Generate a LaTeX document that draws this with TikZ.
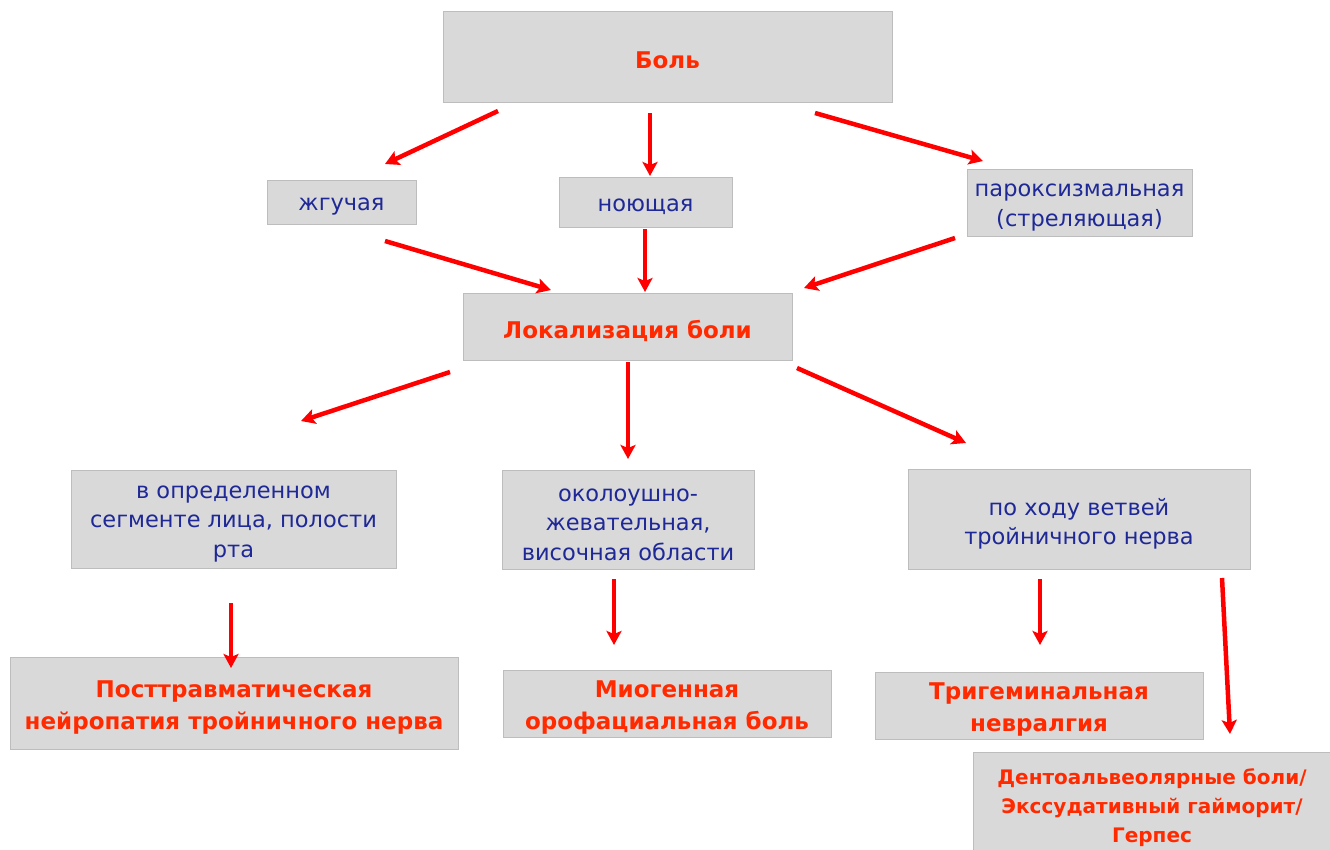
\documentclass[tikz,border=0pt]{standalone}
\usepackage{fontspec}
\setmainfont{DejaVu Sans}
\usetikzlibrary{arrows.meta}
\definecolor{boxfill}{HTML}{D9D9D9}
\definecolor{boxline}{HTML}{BDBDBD}
\definecolor{txtblue}{HTML}{1E2896}
\definecolor{txtred}{HTML}{FF2A00}
\definecolor{arrred}{HTML}{FF0000}
\tikzset{
  box/.style={draw=boxline, line width=1pt, fill=boxfill, inner sep=0pt},
  bluetxt/.style={text=txtblue, align=center, inner sep=0pt, yshift=-5pt, font=\fontsize{22.5}{29.5}\selectfont},
  redtxt/.style={text=txtred, align=center, inner sep=0pt, yshift=-4pt, font=\fontsize{23}{32}\selectfont\bfseries},
  arr/.style={draw=arrred, line width=4.5pt, -{Stealth[length=14pt,width=15pt,inset=3pt]}}
}
\begin{document}
\begin{tikzpicture}[x=1pt,y=-1pt]
\useasboundingbox (0,0) rectangle (1330,849);
% boxes
\node[box, minimum width=449pt, minimum height=91pt] (bol) at (667.5,56.5) {};
\node[box, minimum width=149pt, minimum height=44pt] (zh) at (341.5,202) {};
\node[box, minimum width=173pt, minimum height=50pt] (no) at (645.5,202) {};
\node[box, minimum width=225pt, minimum height=67pt] (par) at (1079.5,202.5) {};
\node[box, minimum width=329pt, minimum height=67pt] (lok) at (627.5,326.5) {};
\node[box, minimum width=325pt, minimum height=98pt] (seg) at (233.5,519) {};
\node[box, minimum width=252pt, minimum height=99pt] (okl) at (628,519.5) {};
\node[box, minimum width=342pt, minimum height=100pt] (hod) at (1079,519) {};
\node[box, minimum width=448pt, minimum height=92pt] (post) at (234,703) {};
\node[box, minimum width=328pt, minimum height=67pt] (mio) at (667,703.5) {};
\node[box, minimum width=328pt, minimum height=67pt] (tri) at (1039,705.5) {};
\node[box, minimum width=360pt, minimum height=110pt, anchor=north west] (dent) at (973,752) {};
% texts
\node[redtxt] (bolt) at (bol.center) {Боль};
\node[bluetxt] (zht) at (zh.center) {жгучая};
\node[bluetxt] (not) at (no.center) {ноющая};
\node[bluetxt] (part) at (par.center) {пароксизмальная\\(стреляющая)};
\node[redtxt] (lokt) at (lok.center) {Локализация боли};
\node[bluetxt] (segt) at (seg.center) {в определенном\\сегменте лица, полости\\рта};
\node[bluetxt] (oklt) at (okl.center) {околоушно-\\жевательная,\\височная области};
\node[bluetxt] (hodt) at (hod.center) {по ходу ветвей\\тройничного нерва};
\node[redtxt] (postt) at (post.center) {Посттравматическая\\нейропатия тройничного нерва};
\node[redtxt] (miot) at (mio.center) {Миогенная\\орофациальная боль};
\node[redtxt] (trit) at (tri.center) {Тригеминальная\\невралгия};
\node[text=txtred, align=center, inner sep=0pt, font=\fontsize{20}{29}\selectfont\bfseries] (dentt) at (1152,808) {Дентоальвеолярные боли/\\Экссудативный гайморит/\\Герпес};
% arrow ends
\coordinate (a1s) at (498,111); \coordinate (a1e) at (385,164);
\coordinate (a2s) at (650,113); \coordinate (a2e) at (650,176);
\coordinate (a3s) at (815,113); \coordinate (a3e) at (983,161);
\coordinate (a4s) at (385,241); \coordinate (a4e) at (551,290);
\coordinate (a5s) at (645,229); \coordinate (a5e) at (645,292);
\coordinate (a6s) at (955,238); \coordinate (a6e) at (804,288);
\coordinate (a7s) at (450,372); \coordinate (a7e) at (301,421);
\coordinate (a8s) at (628,362); \coordinate (a8e) at (628,459);
\coordinate (a9s) at (797,368); \coordinate (a9e) at (966,443);
\coordinate (a10s) at (231,603); \coordinate (a10e) at (231,668);
\coordinate (a11s) at (614,579); \coordinate (a11e) at (614,645);
\coordinate (a12s) at (1040,579); \coordinate (a12e) at (1040,645);
\coordinate (a13s) at (1222,578); \coordinate (a13e) at (1230,734);
\foreach \i in {1,...,13} {\draw[arr] (a\i s) -- (a\i e);}
\end{tikzpicture}
\end{document}
